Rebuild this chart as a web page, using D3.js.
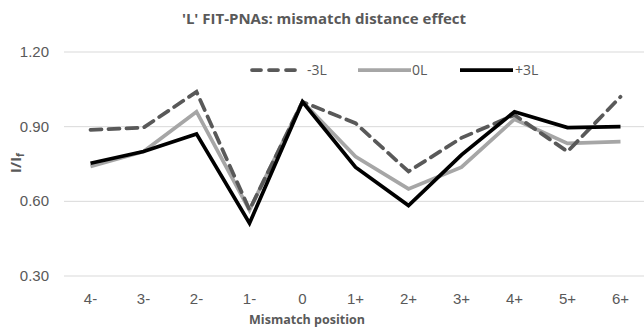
<!DOCTYPE html>
<html><head><meta charset="utf-8">
<script src="https://cdn.jsdelivr.net/npm/d3@7"></script>
<style>body{margin:0;background:#fff}svg{display:block}</style>
</head><body>
<script>
const categories = ["4-","3-","2-","1-","0","1+","2+","3+","4+","5+","6+"];
const seriesNames = ["-3L","0L","+3L"];
const minus3L = [0.887,0.896,1.04,0.566,1.00,0.914,0.72,0.855,0.947,0.80,1.02];
const zeroL   = [0.74,0.80,0.96,0.565,1.00,0.78,0.65,0.737,0.93,0.833,0.84];
const plus3L  = [0.753,0.80,0.871,0.512,1.00,0.737,0.583,0.787,0.96,0.896,0.90];
const yTicks = [0.30,0.60,0.90,1.20];

const W=644,H=328;
const svg=d3.select("body").append("svg").attr("width",W).attr("height",H);
const x=d3.scaleBand().domain(categories).range([64,647]);
const y=d3.scaleLinear().domain([0.30,1.20]).range([276,52]);
const gray="#595959";

svg.append("text").attr("x",324).attr("y",24).attr("text-anchor","middle")
  .attr("font-family","Open Sans").attr("font-weight","bold").attr("font-size",15)
  .attr("fill",gray).text("'L' FIT-PNAs: mismatch distance effect");

// grid
svg.append("g").selectAll("line").data(yTicks).join("line")
  .attr("x1",64).attr("x2",W).attr("y1",d=>y(d)).attr("y2",d=>y(d))
  .attr("stroke","#d9d9d9").attr("stroke-width",1);
svg.append("g").selectAll("text").data(yTicks).join("text")
  .attr("x",49).attr("y",d=>y(d)+5).attr("text-anchor","end")
  .attr("font-family","Liberation Sans").attr("font-size",15).attr("fill",gray)
  .text(d=>d.toFixed(2));
svg.append("g").selectAll("text").data(categories).join("text")
  .attr("x",d=>x(d)+x.bandwidth()/2).attr("y",304).attr("text-anchor","middle")
  .attr("font-family","Liberation Sans").attr("font-size",15).attr("fill",gray)
  .text(d=>d);
svg.append("text").attr("x",307).attr("y",324).attr("text-anchor","middle")
  .attr("font-family","Open Sans").attr("font-weight","bold").attr("font-size",12.5)
  .attr("fill",gray).text("Mismatch position");
const yl=svg.append("text").attr("transform","translate(21,163) rotate(-90)").attr("text-anchor","middle")
  .attr("font-family","Open Sans").attr("font-weight","bold").attr("font-size",15).attr("fill",gray);
yl.append("tspan").text("I/I");
yl.append("tspan").attr("font-size",10).attr("dy",3).text("f");

const series=[
  {name:"-3L",vals:minus3L,color:"#595959",dash:"11,7"},
  {name:"0L",vals:zeroL,color:"#a6a6a6",dash:null},
  {name:"+3L",vals:plus3L,color:"#000000",dash:null}
];
const line=d3.line().x((d,i)=>x(categories[i])+x.bandwidth()/2).y(d=>y(d));
// draw order: 0L, -3L, +3L
[series[1],series[0],series[2]].forEach(s=>{
  svg.append("path").datum(s.vals).attr("d",line).attr("fill","none")
    .attr("stroke",s.color).attr("stroke-width",3.75)
    .attr("stroke-linecap",s.dash?"round":"butt").attr("stroke-linejoin","miter")
    .attr("stroke-dasharray",s.dash);
});

// legend
const lx=[252,358,460], lw=[45,53,53], tx=[307,412,515];
series.forEach((s,i)=>{
  svg.append("line").attr("x1",lx[i]).attr("x2",lx[i]+lw[i]).attr("y1",70).attr("y2",70)
    .attr("stroke",s.color).attr("stroke-width",3.75)
    .attr("stroke-linecap",s.dash?"round":"butt").attr("stroke-dasharray",s.dash?"9,8":null);
  svg.append("text").attr("x",tx[i]).attr("y",75).attr("font-family","Open Sans")
    .attr("font-size",14).attr("fill",gray).text(s.name);
});
</script>
</body></html>
